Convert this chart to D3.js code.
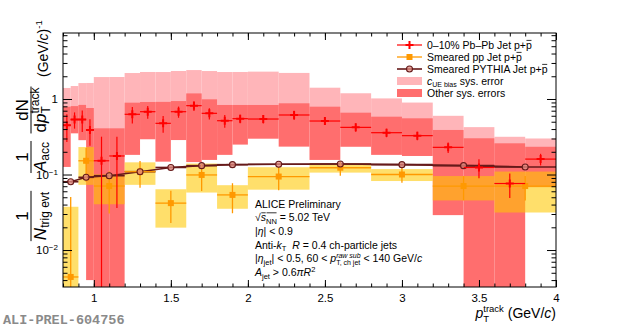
<!DOCTYPE html>
<html lang="en">
<head>
<meta charset="utf-8">
<title>Jet p+pbar yield</title>
<script src="https://cdnjs.cloudflare.com/ajax/libs/d3/7.8.5/d3.min.js"></script>
<style>
    body { margin: 0; background: #fff; }
    svg text { font-family: "Liberation Sans", Arial, Helvetica, sans-serif; fill: #000; white-space: pre; }
    .axis line { stroke: #000; stroke-width: 1; }
    .axis path { display: none; }
</style>
</head>
<body>
<svg id="chart" width="620" height="328"></svg>
<script>
// 0-10% Pb-Pb, bins in pT track
const pbpbEdges = [0.8, 0.85, 0.9, 0.95, 1.0, 1.1, 1.2, 1.3, 1.4, 1.5, 1.6, 1.7, 1.8, 1.9, 2.0,
                   2.2, 2.4, 2.6, 2.8, 3.0, 3.2, 3.4, 3.6, 3.8, 4.0];
const pbpbY = [0.45, 0.535, 0.535, 0.39, 0.152, 0.176, 0.627, 0.679, 0.476, 0.679, 0.816, 0.646,
               0.516, 0.549, 0.543, 0.614, 0.511, 0.421, 0.358, 0.327, 0.229, 0.124, 0.076, 0.16];
const pbpbStat = [0.18, 0.13, 0.17, 0.15, 0.165, 0.14, 0.155, 0.13, 0.12, 0.115, 0.12, 0.11,
                  0.10, 0.07, 0.07, 0.085, 0.06, 0.054, 0.046, 0.042, 0.036, 0.035, 0.027, 0.028];
const pbpbSysHigh = [0.34, 0.27, 0.30, 0.37, 0.257, 0.233, 0.267, 0.234, 0.44, 0.26, 0.37, 0.345,
                     0.317, 0.284, 0.29, 0.263, 0.28, 0.238, 0.225, 0.228, 0.16, 0.178, 0.183, 0.073];
const pbpbSysLow = [0.324, 0.184, 0.25, 0.386, 0.2, 0.2, 0.445, 0.386, 0.328, 0.393, 0.67, 0.49,
                    0.334, 0.30, 0.245, 0.38, 0.355, 0.188, 0.176, 0.151, 0.2, 0.13, 0.08, 0.092];
// c_UE bias (upward only)
const pbpbCue = [0.95, 0.95, 1.09, 1.24, 1.80, 1.78, 1.58, 1.60, 1.80, 1.67, 1.60, 1.70,
                 1.76, 1.73, 1.76, 1.60, 0.90, 0.77, 0.66, 0.57, 0.37, 0.30, 0.24, 0.14];

// smeared pp and PYTHIA reference
const ppEdges = [0.8, 0.9, 1.0, 1.2, 1.4, 1.6, 1.8, 2.0, 2.4, 2.8, 3.2, 3.6, 4.0];
const ppY = [0.0044, 0.152, 0.0704, 0.109, 0.0418, 0.0987, 0.0537, 0.094, 0.123, 0.100, 0.0704, 0.0704];
const ppStat = [0.046, 0.072, 0.04, 0.042, 0.019, 0.038, 0.023, 0.032, 0.027, 0.022, 0.025, 0.025];
const ppSys = [0.033, 0.079, 0.03, 0.036, 0.022, 0.041, 0.0185, 0.031, 0.017, 0.018, 0.025, 0.039];
const pythiaY = [0.0802, 0.0918, 0.0965, 0.109, 0.124, 0.131, 0.135, 0.137, 0.138, 0.135, 0.131, 0.126];

const xMajor = [1, 1.5, 2, 2.5, 3, 3.5, 4];
const yMajor = [0.01, 0.1, 1];

const colPink = "#ffb5b9", colRedBox = "#ff6e6e", colYellow = "rgba(255,200,0,0.58)";
const colRed = "#ff0000", colOrange = "#ff9900", colBrown = "#661a1a";

const svg = d3.select("#chart");
const fx0 = 63, fx1 = 556, fy0 = 33, fy1 = 287;

const x = d3.scaleLinear().domain([0.8, 4]).range([fx0, fx1]);
const y = d3.scaleLog().domain([0.00324, 7.48]).range([fy1, fy0]);
const yc = v => v <= y.domain()[0] ? fy1 + 5 : y(v);

svg.append("defs").append("clipPath").attr("id", "frame")
    .append("rect").attr("x", fx0).attr("y", fy0).attr("width", fx1 - fx0).attr("height", fy1 - fy0);

const pbpb = pbpbY.map((v, i) => ({
    lo: pbpbEdges[i], hi: pbpbEdges[i + 1], x: (pbpbEdges[i] + pbpbEdges[i + 1]) / 2, v,
    stat: pbpbStat[i], sHi: pbpbSysHigh[i], sLo: pbpbSysLow[i], cue: pbpbCue[i]
}));
const pp = ppY.map((v, i) => ({
    lo: ppEdges[i], hi: ppEdges[i + 1], x: (ppEdges[i] + ppEdges[i + 1]) / 2, v,
    stat: ppStat[i], sys: ppSys[i], py: pythiaY[i]
}));

const plot = svg.append("g").attr("clip-path", "url(#frame)");

// systematic boxes
plot.selectAll(".cue").data(pbpb).enter().append("rect")
    .attr("x", d => x(d.lo)).attr("width", d => x(d.hi) - x(d.lo))
    .attr("y", d => y(d.v + d.cue)).attr("height", d => y(d.v) - y(d.v + d.cue))
    .attr("fill", colPink);
plot.selectAll(".sysPb").data(pbpb).enter().append("rect")
    .attr("x", d => x(d.lo)).attr("width", d => x(d.hi) - x(d.lo))
    .attr("y", d => y(d.v + d.sHi)).attr("height", d => yc(d.v - d.sLo) - y(d.v + d.sHi))
    .attr("fill", colRedBox);
plot.selectAll(".sysPp").data(pp).enter().append("rect")
    .attr("x", d => x(d.lo)).attr("width", d => x(d.hi) - x(d.lo))
    .attr("y", d => y(d.v + d.sys)).attr("height", d => yc(d.v - d.sys) - y(d.v + d.sys))
    .attr("fill", colYellow);

// PYTHIA line
plot.append("path").datum(pp)
    .attr("d", d3.line().x(d => x(d.x)).y(d => y(d.py)))
    .attr("fill", "none").attr("stroke", colBrown).attr("stroke-width", 1.6);
plot.selectAll(".pyErr").data(pp).enter().append("line")
    .attr("x1", d => x(d.lo)).attr("x2", d => x(d.hi))
    .attr("y1", d => y(d.py)).attr("y2", d => y(d.py))
    .attr("stroke", colBrown).attr("stroke-width", 1.6);

// smeared pp points
const ppG = plot.selectAll(".pp").data(pp).enter().append("g");
ppG.append("line").attr("x1", d => x(d.lo)).attr("x2", d => x(d.hi))
    .attr("y1", d => y(d.v)).attr("y2", d => y(d.v))
    .attr("stroke", colOrange).attr("stroke-width", 1.3);
ppG.append("line").attr("x1", d => x(d.x)).attr("x2", d => x(d.x))
    .attr("y1", d => y(d.v + d.stat)).attr("y2", d => yc(d.v - d.stat))
    .attr("stroke", colOrange).attr("stroke-width", 1.3);
ppG.append("rect").attr("x", d => x(d.x) - 3).attr("y", d => y(d.v) - 3)
    .attr("width", 6).attr("height", 6).attr("fill", colOrange);

// PYTHIA markers
plot.selectAll(".pyM").data(pp).enter().append("circle")
    .attr("cx", d => x(d.x)).attr("cy", d => y(d.py)).attr("r", 3)
    .attr("fill", "rgba(225,140,130,0.75)").attr("stroke", colBrown).attr("stroke-width", 1.1);

// Pb-Pb points
const cross = "M-1,-4H1V-1H4V1H1V4H-1V1H-4V-1H-1Z";
const pbG = plot.selectAll(".pb").data(pbpb).enter().append("g");
pbG.append("line").attr("x1", d => x(d.lo)).attr("x2", d => x(d.hi))
    .attr("y1", d => y(d.v)).attr("y2", d => y(d.v))
    .attr("stroke", colRed).attr("stroke-width", 1.2);
pbG.append("line").attr("x1", d => x(d.x)).attr("x2", d => x(d.x))
    .attr("y1", d => y(d.v + d.stat)).attr("y2", d => yc(d.v - d.stat))
    .attr("stroke", colRed).attr("stroke-width", 1.2);
pbG.append("path").attr("d", cross)
    .attr("transform", d => "translate(" + x(d.x) + "," + y(d.v) + ")")
    .attr("fill", colRed);

// axes, ticks pointing inward on all four sides
const xMinor = d3.range(8, 41).map(d => d / 10);
const yMinor = [];
[-3, -2, -1, 0].forEach(e => d3.range(2, 10).forEach(k => {
    const v = k * Math.pow(10, e);
    if (v > y.domain()[0] && v < y.domain()[1]) yMinor.push(v);
}));

svg.append("g").attr("class", "axis").attr("transform", "translate(0," + fy1 + ")")
    .call(d3.axisBottom(x).tickValues(xMinor).tickSizeInner(-3.5).tickSizeOuter(0).tickFormat(""));
const xAxis = svg.append("g").attr("class", "axis").attr("transform", "translate(0," + fy1 + ")")
    .call(d3.axisBottom(x).tickValues(xMajor).tickSizeInner(-7).tickSizeOuter(0).tickPadding(7)
        .tickFormat(d3.format("")));
xAxis.selectAll("text").attr("font-size", 11.5);
svg.append("g").attr("class", "axis").attr("transform", "translate(0," + fy0 + ")")
    .call(d3.axisTop(x).tickValues(xMinor).tickSizeInner(-3.5).tickSizeOuter(0).tickFormat(""));
svg.append("g").attr("class", "axis").attr("transform", "translate(0," + fy0 + ")")
    .call(d3.axisTop(x).tickValues(xMajor).tickSizeInner(-7).tickSizeOuter(0).tickFormat(""));

svg.append("g").attr("class", "axis").attr("transform", "translate(" + fx0 + ",0)")
    .call(d3.axisLeft(y).tickValues(yMinor).tickSizeInner(-4.5).tickSizeOuter(0).tickFormat(""));
const yAxis = svg.append("g").attr("class", "axis").attr("transform", "translate(" + fx0 + ",0)")
    .call(d3.axisLeft(y).tickValues(yMajor).tickSizeInner(-9).tickSizeOuter(0).tickPadding(5));
yAxis.selectAll("text").attr("font-size", 11.5).each(function (d) {
    const t = d3.select(this).text(null);
    if (d === 1) { t.text("1"); return; }
    t.append("tspan").text("10");
    t.append("tspan").attr("dy", "-0.5em").attr("font-size", "0.7em").text("\u2212" + (-Math.round(Math.log10(d))));
});
svg.append("g").attr("class", "axis").attr("transform", "translate(" + fx1 + ",0)")
    .call(d3.axisRight(y).tickValues(yMinor).tickSizeInner(-4.5).tickSizeOuter(0).tickFormat(""));
svg.append("g").attr("class", "axis").attr("transform", "translate(" + fx1 + ",0)")
    .call(d3.axisRight(y).tickValues(yMajor).tickSizeInner(-9).tickSizeOuter(0).tickFormat(""));

svg.append("rect").attr("x", fx0).attr("y", fy0).attr("width", fx1 - fx0).attr("height", fy1 - fy0)
    .attr("fill", "none").attr("stroke", "#000").attr("stroke-width", 1);

// lays out a line of text runs (italics, sub/superscripts); returns the width
function richText(g, x0, y0, runs, base, anchor) {
    const grp = g.append("g");
    let cx = 0, lastStart = 0;
    runs.forEach(r => {
        const size = r.size || base;
        const start = r.back ? lastStart : cx;
        const el = grp.append("text").attr("x", start).attr("y", r.dy || 0)
            .attr("xml:space", "preserve")
            .attr("font-size", size).attr("font-style", r.it ? "italic" : null).text(r.t);
        const w = el.node().getComputedTextLength();
        if (r.over) {
            grp.append("line").attr("x1", start + 0.5).attr("x2", start + w - 0.3)
                .attr("y1", -0.8 * base).attr("y2", -0.8 * base)
                .attr("stroke", "#000").attr("stroke-width", 0.8);
        }
        lastStart = start;
        cx = Math.max(cx, start + w);
    });
    let sx = x0;
    if (anchor === "end") sx = x0 - cx;
    if (anchor === "middle") sx = x0 - cx / 2;
    grp.attr("transform", "translate(" + sx + "," + y0 + ")");
    return cx;
}

// legend
const lg = svg.append("g");
const lgX0 = 397, lgX1 = 422, lgT = 427;
const rows = [45, 57, 69, 81, 93];
lg.append("line").attr("x1", lgX0).attr("x2", lgX1).attr("y1", rows[0]).attr("y2", rows[0])
    .attr("stroke", colRed).attr("stroke-width", 1.2);
lg.append("path").attr("d", cross).attr("transform", "translate(" + (lgX0 + lgX1) / 2 + "," + rows[0] + ")").attr("fill", colRed);
lg.append("line").attr("x1", lgX0).attr("x2", lgX1).attr("y1", rows[1]).attr("y2", rows[1])
    .attr("stroke", colOrange).attr("stroke-width", 1.3);
lg.append("rect").attr("x", (lgX0 + lgX1) / 2 - 3).attr("y", rows[1] - 3).attr("width", 6).attr("height", 6).attr("fill", colOrange);
lg.append("line").attr("x1", lgX0).attr("x2", lgX1).attr("y1", rows[2]).attr("y2", rows[2])
    .attr("stroke", colBrown).attr("stroke-width", 1.6);
lg.append("circle").attr("cx", (lgX0 + lgX1) / 2).attr("cy", rows[2]).attr("r", 3)
    .attr("fill", "rgba(225,140,130,0.75)").attr("stroke", colBrown).attr("stroke-width", 1.1);
lg.append("rect").attr("x", lgX0).attr("y", rows[3] - 4).attr("width", lgX1 - lgX0).attr("height", 8).attr("fill", colPink);
lg.append("rect").attr("x", lgX0).attr("y", rows[4] - 4).attr("width", lgX1 - lgX0).attr("height", 8).attr("fill", colRedBox);

const lgFs = 10.5, sub = 7;
richText(lg, lgT, rows[0] + 3.8, [{t: "0\u201310% Pb\u2013Pb Jet p+"}, {t: "p", over: true}], lgFs);
richText(lg, lgT, rows[1] + 3.8, [{t: "Smeared pp Jet p+"}, {t: "p", over: true}], lgFs);
richText(lg, lgT, rows[2] + 3.8, [{t: "Smeared PYTHIA Jet p+"}, {t: "p", over: true}], lgFs);
richText(lg, lgT, rows[3] + 3.8, [{t: "c", it: true}, {t: "UE bias", size: sub, dy: 2.5}, {t: " sys. error"}], lgFs);
richText(lg, lgT, rows[4] + 3.8, [{t: "Other sys. errors"}], lgFs);

// analysis labels
const info = svg.append("g");
const infoX = 255, infoY = 207.5, infoDy = 13.7, fs = 10.5, s2 = 7.5;
richText(info, infoX, infoY, [{t: "ALICE Preliminary"}], fs);
richText(info, infoX, infoY + infoDy, [{t: "\u221A"}, {t: "s", it: true, over: true},
    {t: "NN", size: s2, dy: 2.5, over: true}, {t: " = 5.02 TeV"}], fs);
richText(info, infoX, infoY + 2 * infoDy, [{t: "|"}, {t: "\u03B7", it: true}, {t: "| < 0.9"}], fs);
richText(info, infoX, infoY + 3 * infoDy, [{t: "Anti-"}, {t: "k", it: true}, {t: "T", size: s2, dy: 2.5},
    {t: "  "}, {t: "R", it: true}, {t: " = 0.4 ch-particle jets"}], fs);
richText(info, infoX, infoY + 4 * infoDy, [{t: "|"}, {t: "\u03B7", it: true}, {t: "jet", size: s2, dy: 2.5},
    {t: "| < 0.5, 60 < "}, {t: "p", it: true}, {t: "raw sub", size: 7, dy: -4.5, it: true},
    {t: "T, ch jet", size: 7, dy: 3, back: true}, {t: " < 140 GeV/"}, {t: "c", it: true}], fs);
richText(info, infoX, infoY + 5 * infoDy, [{t: "A", it: true}, {t: "jet", size: s2, dy: 2.5},
    {t: " > 0.6"}, {t: "\u03C0", it: true}, {t: "R", it: true}, {t: "2", size: s2, dy: -4}], fs);

// x axis title
richText(svg, fx1, 318, [{t: "p", it: true}, {t: "track", size: 9.5, dy: -6},
    {t: "T", size: 9.5, dy: 4, back: true}, {t: " (GeV/"}, {t: "c", it: true}, {t: ")"}], 14, "end");

// y axis title, drawn along a rotated baseline
const yt = svg.append("g").attr("transform", "translate(0,328) rotate(-90)");
function frac(g, cu, bar, num, den, size) {
    const wn = richText(g, cu, bar - 3, num, size, "middle");
    const wd = richText(g, cu, bar + 0.72 * size + 2.5, den, size, "middle");
    const w = Math.max(wn, wd) + 2;
    g.append("line").attr("x1", cu - w / 2).attr("x2", cu + w / 2).attr("y1", bar).attr("y2", bar)
        .attr("stroke", "#000").attr("stroke-width", 1);
}
const yfs = 17, ysub = 12, barV = 31;
frac(yt, 112, barV, [{t: "1"}], [{t: "N", it: true}, {t: "trig evt", size: ysub, dy: 3.5}], yfs);
frac(yt, 171, barV, [{t: "1"}], [{t: "A", it: true}, {t: "acc", size: ysub, dy: 3.5}], yfs);
frac(yt, 218, barV, [{t: "dN"}], [{t: "d"}, {t: "p", it: true}, {t: "track", size: ysub, dy: -7},
    {t: "T", size: ysub, dy: 4.5, back: true}], yfs);
richText(yt, 251, 48, [{t: "(GeV/"}, {t: "c", it: true}, {t: ")"}, {t: "-1", size: 9.5, dy: -6}], 14);

// preliminary tag
svg.append("text").attr("x", 3).attr("y", 324)
    .style("font-family", "'Liberation Mono', 'DejaVu Sans Mono', monospace")
    .attr("font-weight", "bold").attr("font-size", 13.5).style("fill", "#8a8a8a")
    .text("ALI-PREL-604756");
</script>
</body>
</html>
